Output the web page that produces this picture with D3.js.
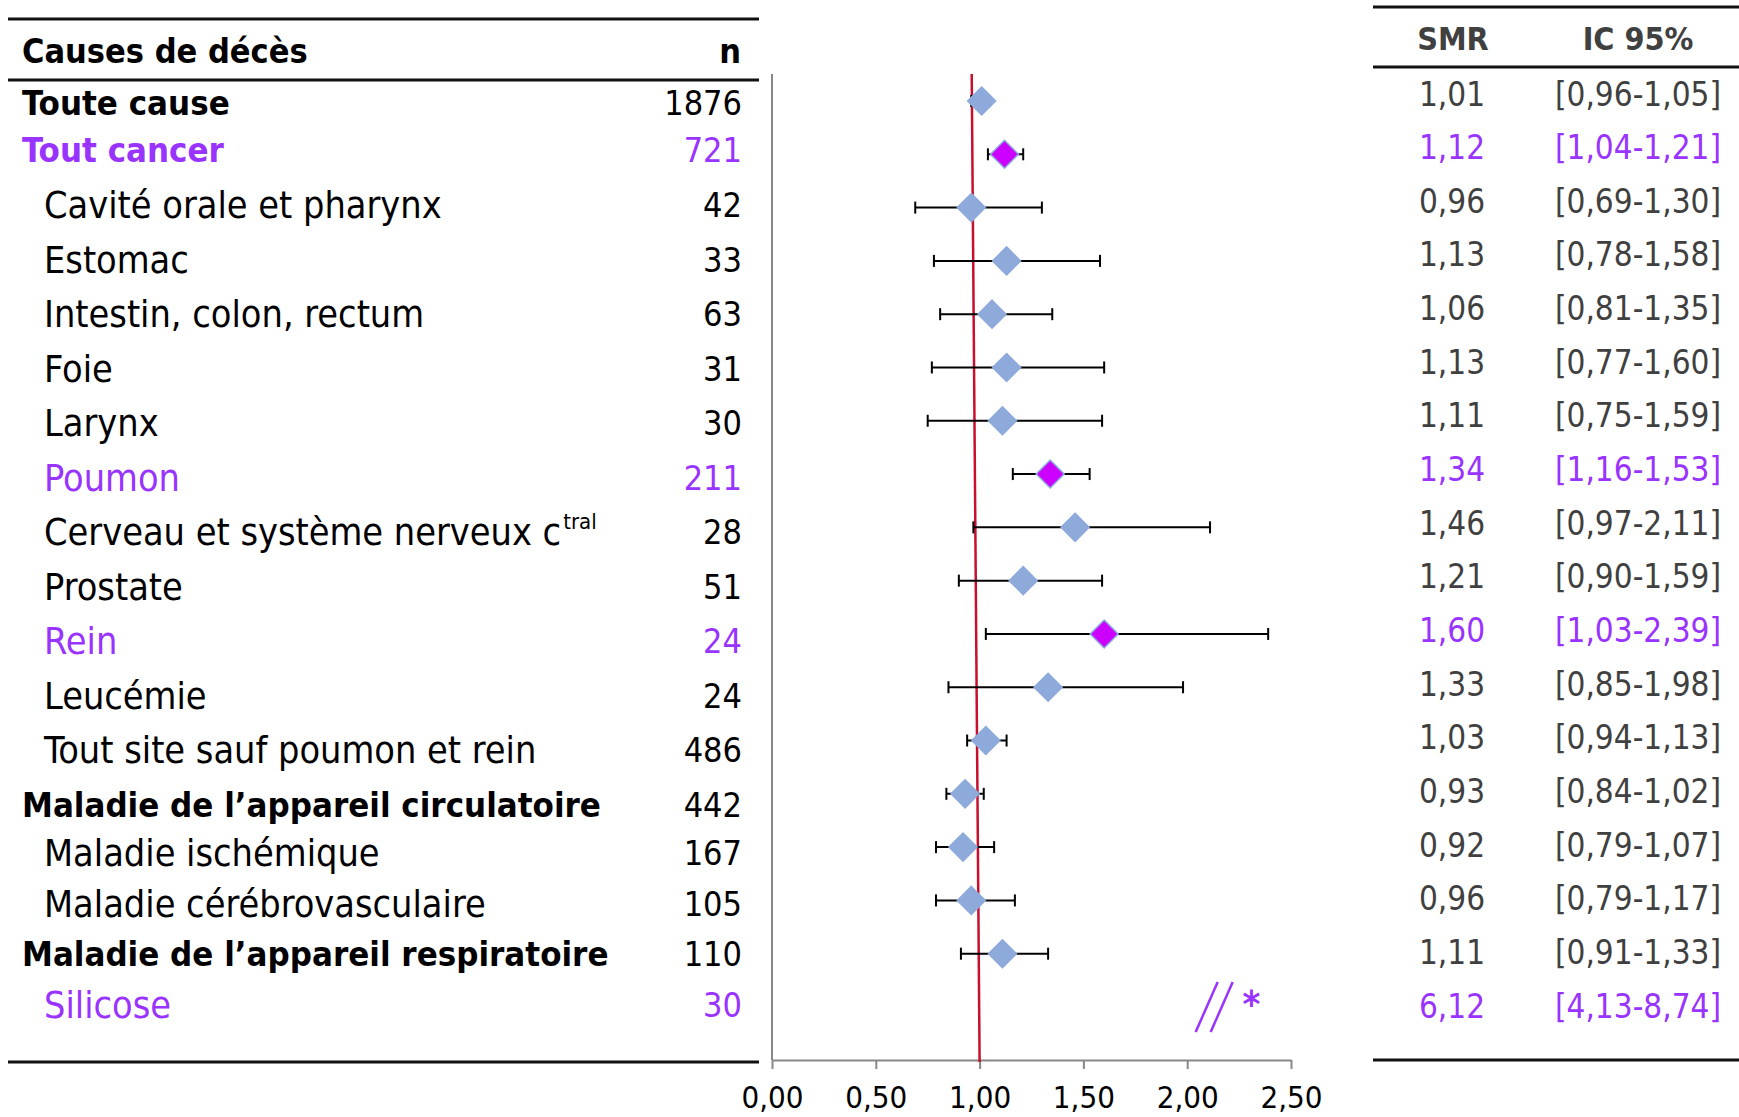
<!DOCTYPE html>
<html lang="fr">
<head>
<meta charset="utf-8">
<script src="https://cdn.jsdelivr.net/npm/d3@7"></script>
<style>
  body { margin: 0; background: #fff; }
  text { font-family: "DejaVu Sans Condensed", "DejaVu Sans", sans-serif; }
</style>
</head>
<body>
<div id="app"></div>
<script>
// data
const causes = [
  "Toute cause", "Tout cancer", "Cavité orale et pharynx", "Estomac",
  "Intestin, colon, rectum", "Foie", "Larynx", "Poumon",
  "Cerveau et système nerveux c^tral", "Prostate", "Rein", "Leucémie",
  "Tout site sauf poumon et rein", "Maladie de l’appareil circulatoire",
  "Maladie ischémique", "Maladie cérébrovasculaire",
  "Maladie de l’appareil respiratoire", "Silicose"
];
const counts = [1876, 721, 42, 33, 63, 31, 30, 211, 28, 51, 24, 24, 486, 442, 167, 105, 110, 30];
const smr    = [1.01, 1.12, 0.96, 1.13, 1.06, 1.13, 1.11, 1.34, 1.46, 1.21, 1.60, 1.33, 1.03, 0.93, 0.92, 0.96, 1.11, 6.12];
const ciLow  = [0.96, 1.04, 0.69, 0.78, 0.81, 0.77, 0.75, 1.16, 0.97, 0.90, 1.03, 0.85, 0.94, 0.84, 0.79, 0.79, 0.91, 4.13];
const ciHigh = [1.05, 1.21, 1.30, 1.58, 1.35, 1.60, 1.59, 1.53, 2.11, 1.59, 2.39, 1.98, 1.13, 1.02, 1.07, 1.17, 1.33, 8.74];
const headingRows = [0, 1, 13, 16];      // bold, not indented
const significantRows = [1, 7, 10, 17];  // purple
const xTicks = [0, 0.5, 1, 1.5, 2, 2.5];
const breakAt = 2.13;   // "//" for off-scale Silicose
const starAt = 2.31;

// sizing
const width = 1739;
const height = 1117;

const purple = "#9933ff";
const magenta = "#cc00ff";
const blue = "#8eaadb";
const darkGray = "#404040";

const fmt = v => d3.format(".2f")(v).replace(".", ",");

const svg = d3.select("#app")
  .append("svg")
    .attr("width", width)
    .attr("height", height);

// scales
const x = d3.scaleLinear()
    .domain([0, 2.5])
    .range([772, 1291]);

// plot rows
const y = d3.scaleLinear()
    .domain([0, causes.length - 1])
    .range([101, 1007]);

// the left table rows are not quite evenly spaced
const yLeft = d3.scaleLinear()
    .domain([0, 1, 2, 13, 14, 17])
    .range([103, 150, 205, 805, 853, 1005]);

// right table rows
const yRight = d3.scaleLinear()
    .domain([0, causes.length - 1])
    .range([94, 1006]);

const axisY = 1060;
const rows = d3.range(causes.length);
const textColor = i => significantRows.includes(i) ? purple : "#000";

// table rules
const rules = [
  {x1: 8, x2: 759, y: 19}, {x1: 8, x2: 759, y: 80}, {x1: 8, x2: 759, y: 1062},
  {x1: 1373, x2: 1739, y: 7}, {x1: 1373, x2: 1739, y: 67}, {x1: 1373, x2: 1739, y: 1060}
];
svg.append("g").selectAll("line")
  .data(rules)
  .enter().append("line")
    .attr("x1", d => d.x1).attr("x2", d => d.x2)
    .attr("y1", d => d.y).attr("y2", d => d.y)
    .attr("stroke", "#111")
    .attr("stroke-width", 3);

// headers
svg.append("text")
    .attr("x", 22).attr("y", 51)
    .attr("dominant-baseline", "central")
    .style("font-weight", "bold").style("font-size", "34px")
    .text("Causes de décès");
svg.append("text")
    .attr("x", 741).attr("y", 51)
    .attr("text-anchor", "end")
    .attr("dominant-baseline", "central")
    .style("font-weight", "bold").style("font-size", "34px")
    .text("n");
svg.append("text")
    .attr("x", 1453).attr("y", 39)
    .attr("text-anchor", "middle")
    .attr("dominant-baseline", "central")
    .style("font-weight", "bold").style("font-size", "32px")
    .style("fill", darkGray)
    .text("SMR");
svg.append("text")
    .attr("x", 1638).attr("y", 39)
    .attr("text-anchor", "middle")
    .attr("dominant-baseline", "central")
    .style("font-weight", "bold").style("font-size", "32px")
    .style("fill", darkGray)
    .text("IC 95%");

// left table: causes
const labels = svg.append("g")
  .selectAll("text")
  .data(rows)
  .enter().append("text")
    .attr("x", i => headingRows.includes(i) ? 22 : 44)
    .attr("y", i => yLeft(i))
    .attr("dominant-baseline", "central")
    .style("fill", textColor)
    .style("font-weight", i => headingRows.includes(i) ? "bold" : "normal")
    .style("font-size", i => headingRows.includes(i) ? "34.5px" : "37.5px");

labels.each(function(i) {
  const parts = causes[i].split("^");
  const t = d3.select(this);
  t.append("tspan").text(parts[0]);
  if (parts[1]) {
    t.append("tspan")
      .attr("dx", 2)
      .attr("dy", -11)
      .style("font-size", "22px")
      .text(parts[1]);
  }
});

// left table: n
svg.append("g")
  .selectAll("text")
  .data(rows)
  .enter().append("text")
    .attr("x", 742)
    .attr("y", i => yLeft(i))
    .attr("text-anchor", "end")
    .attr("dominant-baseline", "central")
    .style("fill", textColor)
    .style("font-size", "34px")
    .text(i => counts[i]);

// right table
const rightColor = i => significantRows.includes(i) ? purple : darkGray;
svg.append("g")
  .selectAll("text")
  .data(rows)
  .enter().append("text")
    .attr("x", 1452)
    .attr("y", i => yRight(i))
    .attr("text-anchor", "middle")
    .attr("dominant-baseline", "central")
    .style("fill", rightColor)
    .style("font-size", "33px")
    .text(i => fmt(smr[i]));
svg.append("g")
  .selectAll("text")
  .data(rows)
  .enter().append("text")
    .attr("x", 1638)
    .attr("y", i => yRight(i))
    .attr("text-anchor", "middle")
    .attr("dominant-baseline", "central")
    .style("fill", rightColor)
    .style("font-size", "33px")
    .text(i => "[" + fmt(ciLow[i]) + "-" + fmt(ciHigh[i]) + "]");

// x axis
const xAxis = svg.append("g")
    .attr("transform", "translate(0," + axisY + ")")
    .call(d3.axisBottom(x)
      .tickValues(xTicks)
      .tickFormat(fmt)
      .tickSize(9)
      .tickSizeOuter(0)
      .tickPadding(17));
xAxis.select(".domain").attr("stroke", "#888").attr("stroke-width", 2);
xAxis.selectAll(".tick line").attr("stroke", "#888").attr("stroke-width", 2);
xAxis.selectAll(".tick text")
    .style("font-family", "DejaVu Sans Condensed, DejaVu Sans, sans-serif")
    .style("font-size", "31px")
    .attr("fill", "#000");

// y axis line
svg.append("line")
    .attr("x1", x(0)).attr("x2", x(0))
    .attr("y1", 74).attr("y2", axisY)
    .attr("stroke", "#888")
    .attr("stroke-width", 2);

// reference line at SMR = 1
svg.append("line")
    .attr("x1", x(0.962)).attr("y1", 74)
    .attr("x2", x(1)).attr("y2", axisY + 2)
    .attr("stroke", "#c8102e")
    .attr("stroke-width", 2.5);

// error bars
const onScale = rows.filter(i => smr[i] <= x.domain()[1]);
const bars = svg.append("g")
  .selectAll("g")
  .data(onScale)
  .enter().append("g")
    .attr("stroke", "#000")
    .attr("stroke-width", 2);
bars.append("line")
    .attr("x1", i => x(ciLow[i])).attr("x2", i => x(ciHigh[i]))
    .attr("y1", i => y(i)).attr("y2", i => y(i));
bars.append("line")
    .attr("x1", i => x(ciLow[i])).attr("x2", i => x(ciLow[i]))
    .attr("y1", i => y(i) - 6).attr("y2", i => y(i) + 6);
bars.append("line")
    .attr("x1", i => x(ciHigh[i])).attr("x2", i => x(ciHigh[i]))
    .attr("y1", i => y(i) - 6).attr("y2", i => y(i) + 6);

// diamonds
const r = 14;
svg.append("g")
  .selectAll("path")
  .data(onScale)
  .enter().append("path")
    .attr("d", i => {
      const cx = x(smr[i]), cy = y(i);
      return `M${cx},${cy - r}L${cx + r},${cy}L${cx},${cy + r}L${cx - r},${cy}Z`;
    })
    .attr("fill", i => significantRows.includes(i) ? magenta : blue)
    .attr("stroke", blue)
    .attr("stroke-width", 1.5);

// off-scale marker (Silicose)
const offScale = rows.filter(i => smr[i] > x.domain()[1]);
const brk = svg.append("g")
  .selectAll("g")
  .data(offScale)
  .enter().append("g")
    .attr("stroke", purple)
    .attr("stroke-width", 2.5);
[-7.5, 7.5].forEach(dx => {
  brk.append("line")
    .attr("x1", i => x(breakAt) + dx - 11).attr("y1", i => y(i) + 25)
    .attr("x2", i => x(breakAt) + dx + 11).attr("y2", i => y(i) - 25);
});
svg.append("g")
  .selectAll("text")
  .data(offScale)
  .enter().append("text")
    .attr("x", x(starAt))
    .attr("y", i => y(i) - 3)
    .attr("text-anchor", "middle")
    .attr("dominant-baseline", "central")
    .style("fill", purple)
    .style("font-weight", "bold")
    .style("font-size", "38px")
    .text("*");
</script>
</body>
</html>
